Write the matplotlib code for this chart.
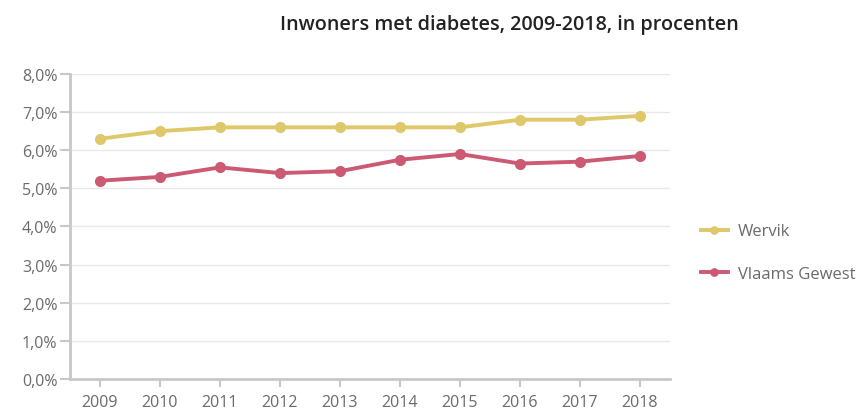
import matplotlib.pyplot as plt
from matplotlib.ticker import FuncFormatter

years = [2009, 2010, 2011, 2012, 2013, 2014, 2015, 2016, 2017, 2018]
wervik = [6.3, 6.5, 6.6, 6.6, 6.6, 6.6, 6.6, 6.8, 6.8, 6.9]
vlaams = [5.2, 5.3, 5.55, 5.4, 5.45, 5.75, 5.9, 5.65, 5.7, 5.85]

YELLOW = "#dfc869"
RED = "#cc5a72"
GRID = "#e8e8e8"
AXIS = "#c8c8c8"
TEXT = "#6a6a6a"

plt.rcParams["font.family"] = ["Open Sans", "DejaVu Sans"]

fig = plt.figure(figsize=(8.62, 4.10), dpi=100)
ax = fig.add_axes([0.0812, 0.0732, 0.696, 0.744])

ax.plot(years, wervik, color=YELLOW, lw=2.8, marker="o", ms=7, label="Wervik")
ax.plot(years, vlaams, color=RED, lw=2.8, marker="o", ms=7, label="Vlaams Gewest")

ax.set_xlim(2008.5, 2018.5)
ax.set_ylim(0, 8)
ax.set_xticks(years)
ax.set_yticks(range(0, 9))
ax.yaxis.set_major_formatter(FuncFormatter(lambda v, p: f"{v:.1f}%".replace(".", ",")))

ax.grid(axis="y", color=GRID, lw=1)
ax.set_axisbelow(True)
for s in ["top", "right"]:
    ax.spines[s].set_visible(False)
for s in ["left", "bottom"]:
    ax.spines[s].set_color(AXIS)
    ax.spines[s].set_linewidth(2)
ax.tick_params(axis="both", colors=AXIS, labelcolor=TEXT, labelsize=11.5, width=1.5)
ax.tick_params(axis="y", length=7, pad=2)
ax.tick_params(axis="x", length=6, pad=5)

fig.text(0.591, 0.94, "Inwoners met diabetes, 2009-2018, in procenten",
         ha="center", va="center", fontsize=14.2, fontweight="semibold", color="#222222")

leg = ax.legend(loc="center left", bbox_to_anchor=(1.027, 0.414), frameon=False,
                fontsize=12, labelcolor=TEXT, handlelength=1.6, handletextpad=0.6,
                labelspacing=1.6, markerscale=0.75)

fig.savefig("out.png", dpi=100)
